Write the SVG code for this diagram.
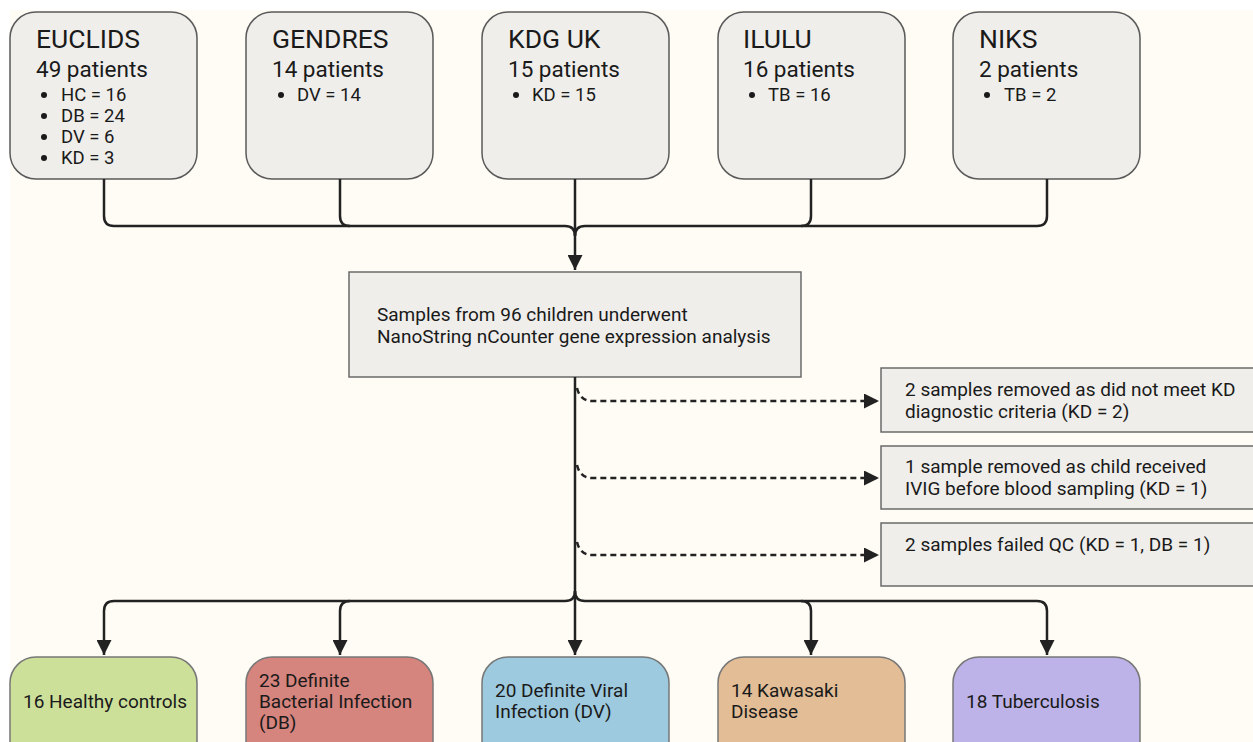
<svg xmlns="http://www.w3.org/2000/svg" width="1253" height="742" viewBox="0 0 1253 742">
<defs>
<style>
.src{fill:#efeeeb;stroke:#5a5a5a;stroke-width:1.5}
.box{fill:#efeeeb;stroke:#6a6a6a;stroke-width:1.5}
.out{stroke:#777;stroke-width:1.5}
.t{font-family:Roboto,"Liberation Sans",sans-serif;fill:#1a1a1a}
.h{font-size:26.5px}
.p{font-size:22.5px}
.b{font-size:18.5px}
.m{font-size:19px}
.r{font-size:19px}
.ln{fill:none;stroke:#222;stroke-width:2.5}
.dl{fill:none;stroke:#222;stroke-width:2.5;stroke-dasharray:6 4}
</style>
<marker id="ah" viewBox="0 0 10 10" refX="10" refY="5" markerWidth="6" markerHeight="6" markerUnits="strokeWidth" orient="auto">
<path d="M0,0 L10,5 L0,10 z" fill="#222"/>
</marker>
</defs>
<rect x="0" y="0" width="1253" height="742" fill="#ffffff"/>
<rect x="10" y="10" width="1243" height="732" fill="#fffcf5"/>

<g id="euclids">
<rect class="src" x="10" y="12" width="187" height="167" rx="26"/>
<text class="t h" x="36" y="48">EUCLIDS</text>
<text class="t p" x="36" y="77">49 patients</text>
<circle cx="44" cy="95" r="3" fill="#1a1a1a"/><text class="t b" x="61" y="101">HC = 16</text>
<circle cx="44" cy="116" r="3" fill="#1a1a1a"/><text class="t b" x="61" y="122">DB = 24</text>
<circle cx="44" cy="137" r="3" fill="#1a1a1a"/><text class="t b" x="61" y="143">DV = 6</text>
<circle cx="44" cy="158" r="3" fill="#1a1a1a"/><text class="t b" x="61" y="164">KD = 3</text>
</g>
<g id="gendres">
<rect class="src" x="246" y="12" width="187" height="167" rx="26"/>
<text class="t h" x="272" y="48">GENDRES</text>
<text class="t p" x="272" y="77">14 patients</text>
<circle cx="281" cy="95" r="3" fill="#1a1a1a"/><text class="t b" x="297" y="101">DV = 14</text>
</g>
<g id="kdguk">
<rect class="src" x="482" y="12" width="187" height="167" rx="26"/>
<text class="t h" x="508" y="48">KDG UK</text>
<text class="t p" x="508" y="77">15 patients</text>
<circle cx="516" cy="95" r="3" fill="#1a1a1a"/><text class="t b" x="532" y="101">KD = 15</text>
</g>
<g id="ilulu">
<rect class="src" x="718" y="12" width="187" height="167" rx="26"/>
<text class="t h" x="743" y="48">ILULU</text>
<text class="t p" x="743" y="77">16 patients</text>
<circle cx="752" cy="95" r="3" fill="#1a1a1a"/><text class="t b" x="768" y="101">TB = 16</text>
</g>
<g id="niks">
<rect class="src" x="953" y="12" width="187" height="167" rx="26"/>
<text class="t h" x="979" y="48">NIKS</text>
<text class="t p" x="979" y="77">2 patients</text>
<circle cx="987" cy="95" r="3" fill="#1a1a1a"/><text class="t b" x="1004" y="101">TB = 2</text>
</g>

<g id="analysis">
<rect class="box" x="349" y="272" width="452" height="105"/>
<text class="t m" x="377" y="321">Samples from 96 children underwent</text>
<text class="t m" x="377" y="343">NanoString nCounter gene expression analysis</text>
</g>

<g id="excl1">
<rect class="box" x="881" y="368" width="380" height="64"/>
<text class="t r" x="905" y="396">2 samples removed as did not meet KD</text>
<text class="t r" x="905" y="418">diagnostic criteria (KD = 2)</text>
</g>
<g id="excl2">
<rect class="box" x="881" y="446" width="380" height="63"/>
<text class="t r" x="905" y="473">1 sample removed as child received</text>
<text class="t r" x="905" y="495">IVIG before blood sampling (KD = 1)</text>
</g>
<g id="excl3">
<rect class="box" x="881" y="523" width="380" height="63"/>
<text class="t r" x="905" y="551">2 samples failed QC (KD = 1, DB = 1)</text>
</g>

<g id="hc">
<rect class="out" fill="#cde09a" x="10" y="657" width="187" height="110" rx="26"/>
<text class="t m" x="23" y="708">16 Healthy controls</text>
</g>
<g id="db">
<rect class="out" fill="#d5847e" x="246" y="657" width="187" height="110" rx="26"/>
<text class="t m" x="259" y="687">23 Definite</text>
<text class="t m" x="259" y="708">Bacterial Infection</text>
<text class="t m" x="259" y="729">(DB)</text>
</g>
<g id="dv">
<rect class="out" fill="#9ecadf" x="482" y="657" width="187" height="110" rx="26"/>
<text class="t m" x="495" y="697">20 Definite Viral</text>
<text class="t m" x="495" y="718">Infection (DV)</text>
</g>
<g id="kd">
<rect class="out" fill="#e2bd96" x="718" y="657" width="187" height="110" rx="26"/>
<text class="t m" x="731" y="697">14 Kawasaki</text>
<text class="t m" x="731" y="718">Disease</text>
</g>
<g id="tb">
<rect class="out" fill="#bdb3e8" x="953" y="657" width="187" height="110" rx="26"/>
<text class="t m" x="966" y="708">18 Tuberculosis</text>
</g>

<g id="connectors">
<path class="ln" d="M104,179 V216 Q104,226 114,226 H565 Q575,226 575,236"/>
<path class="ln" d="M340,179 V216 Q340,226 350,226"/>
<path class="ln" d="M1047,179 V216 Q1047,226 1037,226 H585 Q575,226 575,236"/>
<path class="ln" d="M811,179 V216 Q811,226 801,226"/>
<path class="ln" d="M575,179 V270" marker-end="url(#ah)"/>
<path class="ln" d="M575,377 V601"/>
<path class="dl" d="M577,388 Q580,401 592,401 H879" marker-end="url(#ah)"/>
<path class="dl" d="M577,465 Q580,478 592,478 H879" marker-end="url(#ah)"/>
<path class="dl" d="M577,542 Q580,555 592,555 H879" marker-end="url(#ah)"/>
<path class="ln" d="M575,591 Q575,601 565,601 H114 Q104,601 104,611 V655" marker-end="url(#ah)"/>
<path class="ln" d="M350,601 Q340,601 340,611 V655" marker-end="url(#ah)"/>
<path class="ln" d="M575,591 Q575,601 585,601 H1037 Q1047,601 1047,611 V655" marker-end="url(#ah)"/>
<path class="ln" d="M801,601 Q811,601 811,611 V655" marker-end="url(#ah)"/>
<path class="ln" d="M575,601 V655" marker-end="url(#ah)"/>
</g>
</svg>
